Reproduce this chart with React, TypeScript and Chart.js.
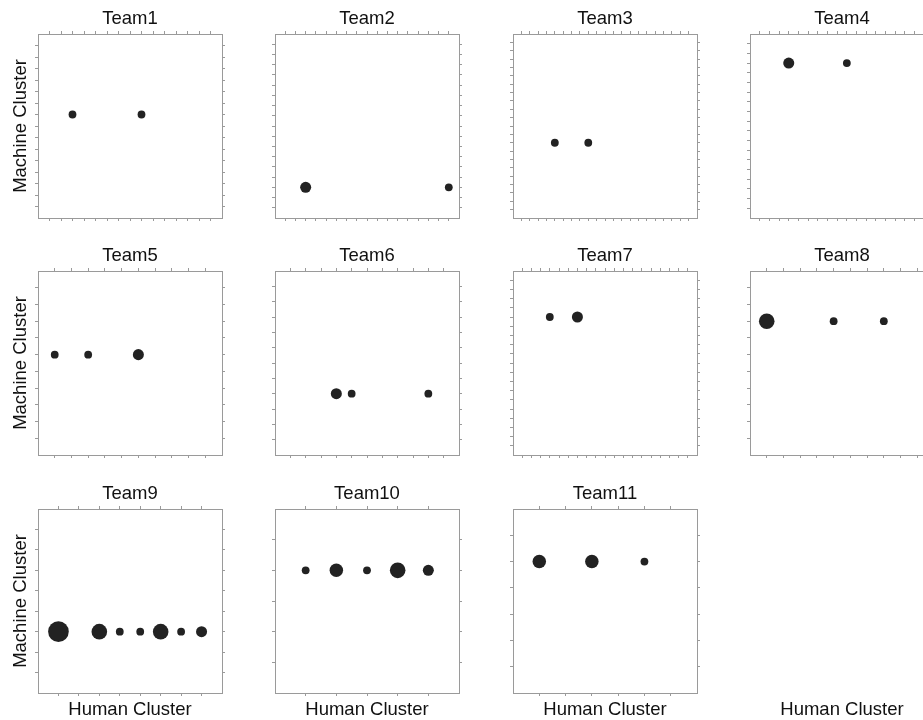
import { useEffect, useRef } from 'react';
import { Chart, registerables } from 'chart.js';

Chart.register(...registerables);

// Panel titles, one per team
const teamNames = ['Team1', 'Team2', 'Team3', 'Team4', 'Team5', 'Team6', 'Team7', 'Team8', 'Team9', 'Team10', 'Team11'];

// Upper limit of both axes for each team (grid steps of 1)
const axisMax = [16, 18, 22, 19, 11, 12, 20, 11, 9, 6, 7];

// Per team: human cluster index, machine cluster index, number of shared members
const team1Human = [3, 9];
const team1Machine = [9, 9];
const team1Count = [1, 1];

const team2Human = [3, 17];
const team2Machine = [3, 3];
const team2Count = [2, 1];

const team3Human = [5, 9];
const team3Machine = [9, 9];
const team3Count = [1, 1];

const team4Human = [4, 10];
const team4Machine = [16, 16];
const team4Count = [2, 1];

const team5Human = [1, 3, 6];
const team5Machine = [6, 6, 6];
const team5Count = [1, 1, 2];

const team6Human = [4, 5, 10];
const team6Machine = [4, 4, 4];
const team6Count = [2, 1, 1];

const team7Human = [4, 7];
const team7Machine = [15, 15];
const team7Count = [1, 2];

const team8Human = [1, 5, 8];
const team8Machine = [8, 8, 8];
const team8Count = [4, 1, 1];

const team9Human = [1, 3, 4, 5, 6, 7, 8];
const team9Machine = [3, 3, 3, 3, 3, 3, 3];
const team9Count = [7, 4, 1, 1, 4, 1, 2];

const team10Human = [1, 2, 3, 4, 5];
const team10Machine = [4, 4, 4, 4, 4];
const team10Count = [1, 3, 1, 4, 2];

const team11Human = [1, 3, 5];
const team11Machine = [5, 5, 5];
const team11Count = [3, 3, 1];

const humanByTeam = [team1Human, team2Human, team3Human, team4Human, team5Human, team6Human, team7Human, team8Human, team9Human, team10Human, team11Human];
const machineByTeam = [team1Machine, team2Machine, team3Machine, team4Machine, team5Machine, team6Machine, team7Machine, team8Machine, team9Machine, team10Machine, team11Machine];
const countByTeam = [team1Count, team2Count, team3Count, team4Count, team5Count, team6Count, team7Count, team8Count, team9Count, team10Count, team11Count];

const X_TITLE = 'Human Cluster';
const Y_TITLE = 'Machine Cluster';

// Layout of the 4-column grid
const COLS = 4;
const BOX = 184;
const COL_LEFT = [38, 275, 513, 750];
const ROW_TOP = [34, 271, 509];
const LEFT_SPACE = 38;
const TOP_SPACE = 34;
const RIGHT_SPACE = 8;

const GREY = '#9a9a9a';
const INK = '#111111';
const DOT = '#222222';
const FONT = { family: "'Liberation Sans', Arial, Helvetica, sans-serif", size: 18.5, weight: 'normal' as const };

// bubble area grows with the member count
const radiusFor = (n: number) => 3.9 * Math.sqrt(n);

type PanelSpec = {
  index: number; // -1 for the empty slot that only carries the x-axis title
  col: number;
  row: number;
};

function buildConfig(p: PanelSpec): any {
  const blank = p.index < 0;
  const max = blank ? 10 : axisMax[p.index];
  const showY = p.col === 0;
  const showX = p.row === 2;
  const edge = blank ? 'rgba(0,0,0,0)' : GREY;

  const axis = (position: string, title?: { text: string; padding: any }) => ({
    type: 'linear',
    position,
    min: 0,
    max,
    afterBuildTicks: (scale: any) => {
      scale.ticks = scale.ticks.filter((t: any) => t.value > 0 && t.value < max);
    },
    ticks: { display: false, stepSize: 1, autoSkip: false },
    grid: { display: true, drawOnChartArea: false, drawTicks: true, tickLength: 3, color: edge, lineWidth: 1 },
    border: { display: true, color: edge, width: 1 },
    title: title
      ? { display: true, text: title.text, color: INK, font: FONT, padding: title.padding }
      : { display: false },
  });

  const data = blank
    ? []
    : humanByTeam[p.index].map((h, i) => ({
        x: h,
        y: machineByTeam[p.index][i],
        r: radiusFor(countByTeam[p.index][i]),
      }));

  return {
    type: 'bubble',
    data: {
      datasets: [
        {
          data,
          backgroundColor: DOT,
          borderWidth: 0,
          hoverBorderWidth: 0,
        },
      ],
    },
    options: {
      animation: false,
      responsive: false,
      maintainAspectRatio: false,
      events: [],
      layout: {
        autoPadding: false,
        padding: { left: showY ? 0 : 35, top: 0, right: 5, bottom: showX ? 0 : 5 },
      },
      plugins: {
        legend: { display: false },
        tooltip: { enabled: false },
        title: {
          display: !blank,
          fullSize: false,
          text: blank ? '' : teamNames[p.index],
          color: INK,
          font: FONT,
          padding: { top: 8, bottom: 0.8 },
        },
      },
      scales: {
        x: axis('bottom', showX ? { text: X_TITLE, padding: { top: 3, bottom: 4.8 } } : undefined),
        x2: axis('top'),
        y: axis('left', showY ? { text: Y_TITLE, padding: { top: 9.5, bottom: 3.3 } } : undefined),
        y2: axis('right'),
      },
    },
  };
}

function Panel({ spec }: { spec: PanelSpec }) {
  const ref = useRef<HTMLCanvasElement | null>(null);
  const showX = spec.row === 2;
  const width = LEFT_SPACE + BOX + RIGHT_SPACE;
  const height = TOP_SPACE + BOX + (showX ? 33 : 8);
  const left = COL_LEFT[spec.col] - LEFT_SPACE;
  const top = ROW_TOP[spec.row] - TOP_SPACE;

  useEffect(() => {
    if (!ref.current) return;
    const chart = new Chart(ref.current, buildConfig(spec));
    return () => chart.destroy();
  }, [spec.index, spec.col, spec.row]);

  return (
    <canvas
      ref={ref}
      width={width}
      height={height}
      style={{ position: 'absolute', left, top, width, height }}
    />
  );
}

export default function App() {
  const specs: PanelSpec[] = teamNames.map((_, i) => ({
    index: i,
    col: i % COLS,
    row: Math.floor(i / COLS),
  }));
  // the empty last slot still shows the shared x-axis title
  specs.push({ index: -1, col: 3, row: 2 });

  return (
    <div
      style={{
        position: 'absolute',
        left: 0,
        top: 0,
        width: 923,
        height: 720,
        overflow: 'hidden',
        background: '#ffffff',
      }}
    >
      {specs.map((s) => (
        <Panel key={`${s.index}-${s.col}-${s.row}`} spec={s} />
      ))}
    </div>
  );
}
